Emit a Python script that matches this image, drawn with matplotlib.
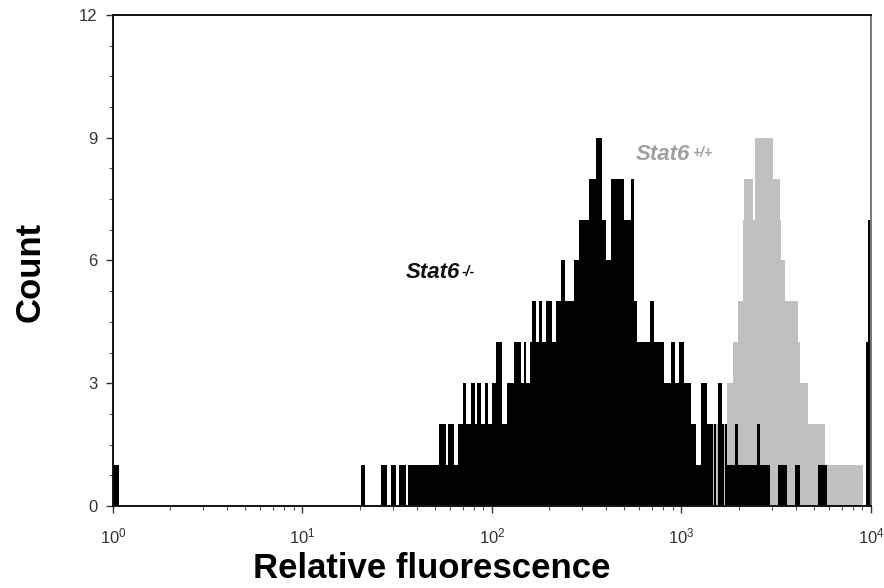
import numpy as np
import matplotlib
matplotlib.use('Agg')
import matplotlib.pyplot as plt
from matplotlib.ticker import FixedLocator, LogLocator, NullFormatter

plt.rcParams['font.family'] = ['Liberation Sans', 'DejaVu Sans']
plt.rcParams['mathtext.fontset'] = 'custom'
plt.rcParams['mathtext.rm'] = 'Liberation Sans'
plt.rcParams['mathtext.it'] = 'Liberation Sans:italic'
plt.rcParams['mathtext.bf'] = 'Liberation Sans:bold'

# channel runs (1024 channels over 4 decades)
# each run starts at the given channel and lasts until the next one
ko_start = [0, 8, 335, 341, 362, 370, 375, 383, 386, 396, 398, 440, 450, 452,
            461, 466, 473, 477, 484, 489, 492, 497, 503, 507, 512, 517, 526,
            532, 542, 551, 555, 558, 563, 566, 572, 576, 580, 585, 593, 599,
            605, 610, 623, 630, 643, 653, 660, 666, 673, 691, 700, 704, 708,
            725, 731, 745, 754, 759, 764, 772, 781, 788, 794, 802, 810, 812,
            815, 817, 823, 825, 827, 830, 840, 844, 870, 874, 887, 898, 910,
            921, 928, 952, 964, 1017, 1020]
ko_count = [1, 0, 1, 0, 1, 0, 1, 0, 1, 0, 1, 2, 1, 2,
            1, 2, 3, 2, 3, 2, 3, 2, 3, 2, 3, 4, 2,
            3, 4, 3, 4, 3, 4, 5, 4, 5, 4, 5, 4, 5,
            6, 5, 6, 7, 8, 9, 7, 6, 8, 7, 8, 5, 4,
            5, 4, 3, 4, 3, 4, 3, 2, 1, 3, 2, 0, 2,
            0, 3, 2, 0, 2, 1, 2, 1, 2, 1, 0, 1, 0,
            1, 0, 1, 0, 4, 7]

wt_start = [792, 809, 829, 837, 844, 851, 853, 864, 867, 891, 901, 903, 908,
            925, 928, 939, 962, 1013]
wt_count = [1, 2, 3, 4, 5, 7, 8, 7, 9, 8, 7, 6, 5,
            4, 3, 2, 1, 0]

n_channels = 1024


def channel_to_fl(ch):
    # log amplifier, 256 channels per decade
    return 10 ** (np.asarray(ch, dtype=float) / 256.0)


fig = plt.figure(figsize=(8.84, 5.88), dpi=100)
ax = fig.add_axes([0.1278, 0.1395, 0.8575, 0.835])

wt_edges = channel_to_fl(wt_start + [n_channels])
ko_edges = channel_to_fl(ko_start + [n_channels])

# Stat6+/+ in grey behind, Stat6-/- in black on top
ax.stairs(wt_count, wt_edges, fill=True, color='#c0c0c0', lw=0)
ax.stairs(ko_count, ko_edges, fill=True, color='black', lw=0)

ax.set_xscale('log')
ax.set_xlim(1, 1e4)
ax.set_ylim(0, 12)

ax.yaxis.set_major_locator(FixedLocator([0, 3, 6, 9, 12]))
ax.yaxis.set_minor_locator(FixedLocator(np.arange(0, 12.01, 0.75)))
ax.xaxis.set_major_locator(LogLocator(base=10, numticks=10))
ax.xaxis.set_minor_locator(LogLocator(base=10, subs=np.arange(2, 10), numticks=20))
ax.xaxis.set_minor_formatter(NullFormatter())

ax.tick_params(axis='both', which='major', direction='out', length=5, width=1,
               labelsize=12, colors='#333333')
ax.tick_params(axis='y', which='major', pad=6)
ax.tick_params(axis='x', which='major', pad=10)
ax.tick_params(axis='both', which='minor', direction='out', length=3, width=0.8,
               colors='#555555')
for sp in ax.spines.values():
    sp.set_linewidth(1.4)
    sp.set_color('#111111')
ax.spines['right'].set_color('#777777')

fig.text(30 / 884, 1 - 272 / 588, 'Count', rotation=90, ha='center', va='center',
         fontsize=25, fontweight='bold')
fig.text(432 / 884, 1 - 569 / 588, 'Relative fluorescence', ha='center', va='center',
         fontsize=25, fontweight='bold')

# genotype labels
t1 = ax.text(35, 5.7, 'Stat6', fontsize=16, fontweight='bold', style='italic',
             color='#111111', va='center')
ax.annotate('-/-', xy=(1, 1), xycoords=t1, xytext=(1, -2), textcoords='offset points',
            fontsize=10, fontweight='bold', style='italic', color='#111111', va='top')
t2 = ax.text(575, 8.6, 'Stat6', fontsize=16, fontweight='bold', style='italic',
             color='#a0a0a0', va='center')
ax.annotate('+/+', xy=(1, 1), xycoords=t2, xytext=(1, -2), textcoords='offset points',
            fontsize=10, fontweight='bold', style='italic', color='#a0a0a0', va='top')

plt.savefig('out.png', dpi=100)
